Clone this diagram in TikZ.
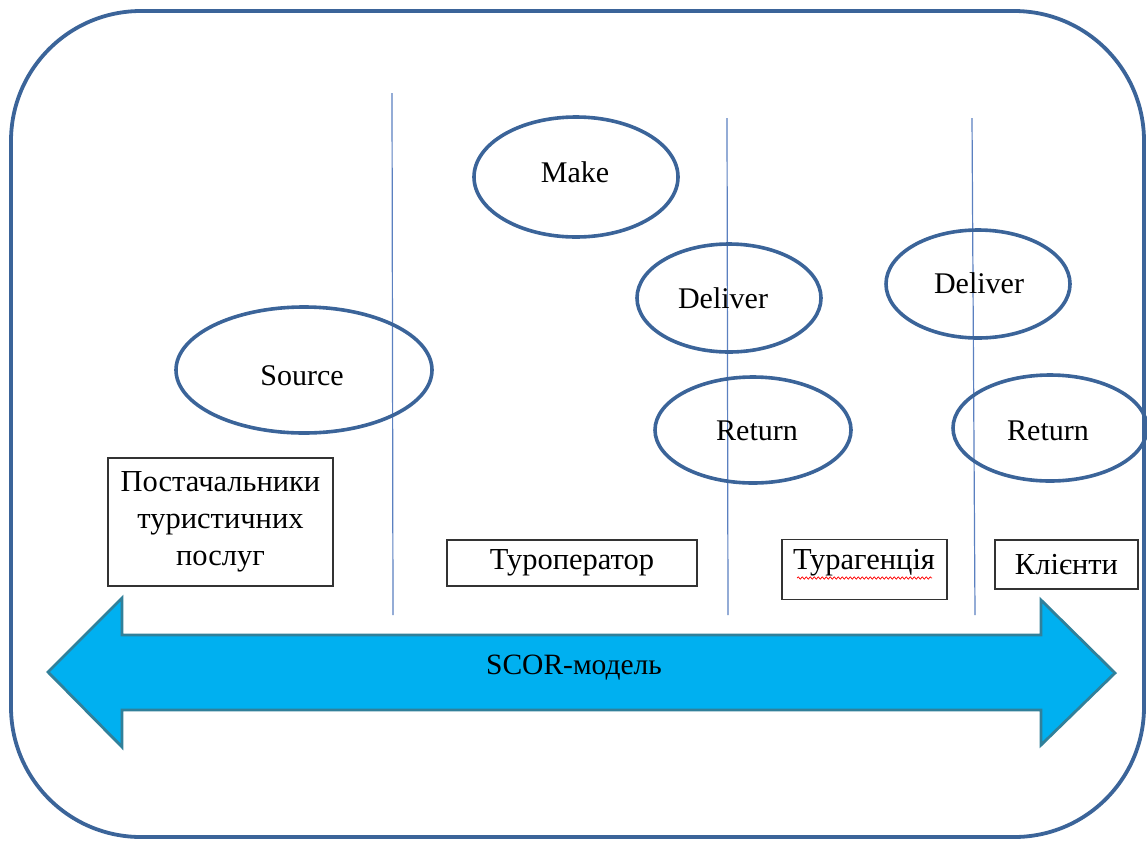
\documentclass[tikz,border=0pt]{standalone}
\usepackage{fontspec}
\setmainfont{Liberation Serif}
\usetikzlibrary{shapes.geometric,decorations.pathmorphing}
\definecolor{framec}{HTML}{3B6499}
\definecolor{vline}{HTML}{5B80C0}
\definecolor{arrowfill}{HTML}{00B0F0}
\definecolor{arrowedge}{HTML}{31809A}
\tikzset{
  oval/.style={ellipse, draw=framec, line width=3.6pt, inner sep=0pt},
  boxnode/.style={rectangle, draw=black!80, line width=1.3pt, inner sep=0pt, font=\fontsize{30.5}{37}\selectfont, align=center},
  txt/.style={inner sep=0pt, font=\fontsize{30}{37}\selectfont},
  divider/.style={draw=vline, line width=1.2pt}
}
\begin{document}
\begin{tikzpicture}[x=1pt,y=-1pt]
\useasboundingbox (0,0) rectangle (1147,841);
% frame
\draw[framec, line width=3.8pt, rounded corners=130pt] (11,11) rectangle (1144,837);
% dividers
\coordinate (d1t) at (392,93);  \coordinate (d1b) at (393,615);
\coordinate (d2t) at (727,118); \coordinate (d2b) at (728,615);
\coordinate (d3t) at (972,118); \coordinate (d3b) at (975,615);
\draw[divider] (d1t) -- (d1b);
\draw[divider] (d2t) -- (d2b);
\draw[divider] (d3t) -- (d3b);
% ellipses
\node[oval, minimum width=204pt, minimum height=120pt] (make) at (576,177) {};
\node[txt] (maket) at (575,172) {Make};
\node[oval, minimum width=256pt, minimum height=126pt] (source) at (304,370) {};
\node[txt] (sourcet) at (302,376) {Source};
\node[oval, minimum width=184pt, minimum height=108pt] (deliver1) at (729,298) {};
\node[txt] (deliver1t) at (723,298) {Deliver};
\node[oval, minimum width=196pt, minimum height=106pt] (return1) at (753,430) {};
\node[txt] (return1t) at (757,431) {Return};
\node[oval, minimum width=184pt, minimum height=108pt] (deliver2) at (978,284) {};
\node[txt] (deliver2t) at (979,283) {Deliver};
\node[oval, minimum width=194pt, minimum height=106pt] (return2) at (1050,428) {};
\node[txt] (return2t) at (1048,431) {Return};
% boxes
\node[boxnode, minimum width=225pt, minimum height=128pt] (post) at (220.5,522) {Постачальники\\туристичних\\послуг};
\node[boxnode, minimum width=250pt, minimum height=46pt] (tour) at (572,563) {Туроператор};
\node[boxnode, minimum width=165pt, minimum height=60pt] (agency) at (864.5,569.5) {};
\node[txt, font=\fontsize{30.5}{37}\selectfont] (agencyt) at (864,563) {Турагенція};
\draw[red, line width=0.7pt, decorate, decoration={snake, amplitude=1.2pt, segment length=4pt}] (797,578) -- (932,578);
\node[boxnode, minimum width=143pt, minimum height=49pt] (clients) at (1066.5,564.5) {Клієнти};
% double arrow
\draw[fill=arrowfill, draw=arrowedge, line width=2.8pt, line join=miter]
  (48,672) -- (122,598) -- (122,635) -- (1041,635) -- (1041,600) -- (1115,673)
  -- (1041,745) -- (1041,710) -- (122,710) -- (122,747) -- cycle;
\node[txt, font=\fontsize{29.5}{30}\selectfont] (scor) at (574,668) {SCOR-модель};
\end{tikzpicture}
\end{document}
